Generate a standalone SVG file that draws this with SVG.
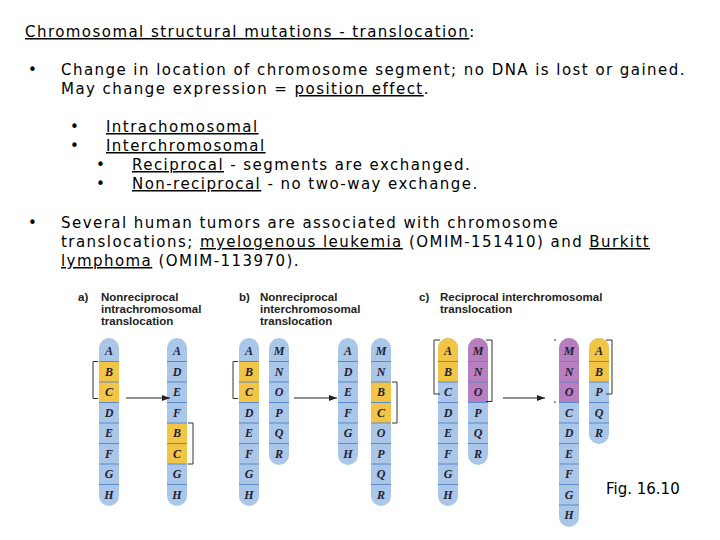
<svg xmlns="http://www.w3.org/2000/svg" width="720" height="540" viewBox="0 0 720 540">
<style>
.t{font-family:"DejaVu Sans",sans-serif;font-size:15px;fill:#000;letter-spacing:1.45px}
.u{text-decoration:underline}
.h{font-family:"Liberation Sans",Arial,sans-serif;font-size:11.5px;font-weight:bold;fill:#222}
.s{font-family:"Liberation Serif",serif;font-style:italic;font-weight:bold;font-size:12px;fill:#223;text-anchor:middle}
.bl{fill:#aac6e8}.ye{fill:#f2c547}.pu{fill:#b77fbf}
.ln{stroke:#5a8ac8;stroke-width:1}
.br{fill:none;stroke:#333;stroke-width:1}
</style>
<defs><marker id="ar" markerWidth="8" markerHeight="6" refX="8" refY="3" orient="auto"><path d="M0,0L8,3L0,6z" fill="#222"/></marker></defs>
<text class="t" x="25" y="37"><tspan class="u">Chromosomal structural mutations - translocation</tspan>:</text>
<text class="t" x="28" y="75">•</text>
<text class="t" x="61" y="75">Change in location of chromosome segment; no DNA is lost or gained.</text>
<text class="t" x="61" y="94">May change expression =  <tspan class="u">position effect</tspan>.</text>
<text class="t" x="70" y="132">•</text><text class="t u" x="106" y="132">Intrachomosomal</text>
<text class="t" x="70" y="151">•</text><text class="t u" x="106" y="151">Interchromosomal</text>
<text class="t" x="96" y="170">•</text><text class="t" x="132" y="170"><tspan class="u">Reciprocal</tspan> - segments are exchanged.</text>
<text class="t" x="96" y="189">•</text><text class="t" x="132" y="189"><tspan class="u">Non-reciprocal</tspan> - no two-way exchange.</text>
<text class="t" x="28" y="228">•</text>
<text class="t" x="61" y="228">Several human tumors are associated with chromosome</text>
<text class="t" x="61" y="247">translocations; <tspan class="u">myelogenous leukemia</tspan> (OMIM-151410) and <tspan class="u">Burkitt</tspan></text>
<text class="t" x="61" y="266"><tspan class="u">lymphoma</tspan> (OMIM-113970).</text>
<g id="labels">
<text class="h" x="78" y="301">a)</text><text class="h" x="101" y="301">Nonreciprocal</text><text class="h" x="101" y="313">intrachromosomal</text><text class="h" x="101" y="325">translocation</text>
<text class="h" x="239" y="301">b)</text><text class="h" x="260" y="301">Nonreciprocal</text><text class="h" x="260" y="313">interchromosomal</text><text class="h" x="260" y="325">translocation</text>
<text class="h" x="419" y="301">c)</text><text class="h" x="440" y="301">Reciprocal interchromosomal</text><text class="h" x="440" y="313">translocation</text>
</g>
<g id="chromosomes">
<g id="a1" transform="translate(109,341)">
<rect x="-10" y="-3" width="20" height="168" rx="10" class="bl"/>
<rect x="-10" y="20.5" width="20" height="41" class="ye"/>
<path class="ln" d="M-10 20.5h20M-10 41h20M-10 61.5h20M-10 82h20M-10 102.5h20M-10 123h20M-10 143.5h20"/>
<text class="s" y="14">A</text><text class="s" y="34.5">B</text><text class="s" y="55">C</text><text class="s" y="75.5">D</text><text class="s" y="96">E</text><text class="s" y="116.5">F</text><text class="s" y="137">G</text><text class="s" y="157.5">H</text>
</g>
<g id="a2" transform="translate(177,341)">
<rect x="-10" y="-3" width="20" height="168" rx="10" class="bl"/>
<rect x="-10" y="82" width="20" height="41" class="ye"/>
<path class="ln" d="M-10 20.5h20M-10 41h20M-10 61.5h20M-10 82h20M-10 102.5h20M-10 123h20M-10 143.5h20"/>
<text class="s" y="14">A</text><text class="s" y="34.5">D</text><text class="s" y="55">E</text><text class="s" y="75.5">F</text><text class="s" y="96">B</text><text class="s" y="116.5">C</text><text class="s" y="137">G</text><text class="s" y="157.5">H</text>
</g>
<g id="b1" transform="translate(249,341)">
<rect x="-10" y="-3" width="20" height="168" rx="10" class="bl"/>
<rect x="-10" y="20.5" width="20" height="41" class="ye"/>
<path class="ln" d="M-10 20.5h20M-10 41h20M-10 61.5h20M-10 82h20M-10 102.5h20M-10 123h20M-10 143.5h20"/>
<text class="s" y="14">A</text><text class="s" y="34.5">B</text><text class="s" y="55">C</text><text class="s" y="75.5">D</text><text class="s" y="96">E</text><text class="s" y="116.5">F</text><text class="s" y="137">G</text><text class="s" y="157.5">H</text>
</g>
<g id="b2" transform="translate(279,341)">
<rect x="-10" y="-3" width="20" height="127" rx="10" class="bl"/>
<path class="ln" d="M-10 20.5h20M-10 41h20M-10 61.5h20M-10 82h20M-10 102.5h20"/>
<text class="s" y="14">M</text><text class="s" y="34.5">N</text><text class="s" y="55">O</text><text class="s" y="75.5">P</text><text class="s" y="96">Q</text><text class="s" y="116.5">R</text>
</g>
<g id="b3" transform="translate(348,341)">
<rect x="-10" y="-3" width="20" height="127" rx="10" class="bl"/>
<path class="ln" d="M-10 20.5h20M-10 41h20M-10 61.5h20M-10 82h20M-10 102.5h20"/>
<text class="s" y="14">A</text><text class="s" y="34.5">D</text><text class="s" y="55">E</text><text class="s" y="75.5">F</text><text class="s" y="96">G</text><text class="s" y="116.5">H</text>
</g>
<g id="b4" transform="translate(381,341)">
<rect x="-10" y="-3" width="20" height="168" rx="10" class="bl"/>
<rect x="-10" y="41" width="20" height="41" class="ye"/>
<path class="ln" d="M-10 20.5h20M-10 41h20M-10 61.5h20M-10 82h20M-10 102.5h20M-10 123h20M-10 143.5h20"/>
<text class="s" y="14">M</text><text class="s" y="34.5">N</text><text class="s" y="55">B</text><text class="s" y="75.5">C</text><text class="s" y="96">O</text><text class="s" y="116.5">P</text><text class="s" y="137">Q</text><text class="s" y="157.5">R</text>
</g>
<g id="c1" transform="translate(448,341)">
<rect x="-10" y="-3" width="20" height="168" rx="10" class="bl"/>
<path class="ye" d="M-10 7a10 10 0 0 1 20 0V41H-10z"/>
<path class="ln" d="M-10 20.5h20M-10 41h20M-10 61.5h20M-10 82h20M-10 102.5h20M-10 123h20M-10 143.5h20"/>
<text class="s" y="14">A</text><text class="s" y="34.5">B</text><text class="s" y="55">C</text><text class="s" y="75.5">D</text><text class="s" y="96">E</text><text class="s" y="116.5">F</text><text class="s" y="137">G</text><text class="s" y="157.5">H</text>
</g>
<g id="c2" transform="translate(478,341)">
<rect x="-10" y="-3" width="20" height="127" rx="10" class="bl"/>
<path class="pu" d="M-10 7a10 10 0 0 1 20 0V61.5H-10z"/>
<path class="ln" d="M-10 20.5h20M-10 41h20M-10 61.5h20M-10 82h20M-10 102.5h20"/>
<text class="s" y="14">M</text><text class="s" y="34.5">N</text><text class="s" y="55">O</text><text class="s" y="75.5">P</text><text class="s" y="96">Q</text><text class="s" y="116.5">R</text>
</g>
<g id="c3" transform="translate(569,341)">
<rect x="-10" y="-3" width="20" height="189" rx="10" class="bl"/>
<path class="pu" d="M-10 7a10 10 0 0 1 20 0V61.5H-10z"/>
<path class="ln" d="M-10 20.5h20M-10 41h20M-10 61.5h20M-10 82h20M-10 102.5h20M-10 123h20M-10 143.5h20M-10 164h20"/>
<text class="s" y="14">M</text><text class="s" y="34.5">N</text><text class="s" y="55">O</text><text class="s" y="75.5">C</text><text class="s" y="96">D</text><text class="s" y="116.5">E</text><text class="s" y="137">F</text><text class="s" y="157.5">G</text><text class="s" y="178">H</text>
</g>
<g id="c4" transform="translate(599,341)">
<rect x="-10" y="-3" width="20" height="106" rx="10" class="bl"/>
<path class="ye" d="M-10 7a10 10 0 0 1 20 0V41H-10z"/>
<path class="ln" d="M-10 20.5h20M-10 41h20M-10 61.5h20M-10 82h20"/>
<text class="s" y="14">A</text><text class="s" y="34.5">B</text><text class="s" y="55">P</text><text class="s" y="75.5">Q</text><text class="s" y="96">R</text>
</g>
</g>
<g id="connectors">
<path class="br" d="M98 361.5h-5v37h5M188 423h5v41h-5M238 361.5h-5v37h5M392 382h5v41h-5M440 340h-6v54h6M486 340h6v61.5h-6M556 340h-2M606 340h6v54h-6M556 402h-2"/>
<path d="M126 398H170" stroke="#222" stroke-width="1" marker-end="url(#ar)"/>
<path d="M294 398H337" stroke="#222" stroke-width="1" marker-end="url(#ar)"/>
<path d="M503 398H545" stroke="#222" stroke-width="1" marker-end="url(#ar)"/>
</g>
<text x="606" y="494" style="font-family:'DejaVu Sans',sans-serif;font-size:15px">Fig. 16.10</text>
</svg>
